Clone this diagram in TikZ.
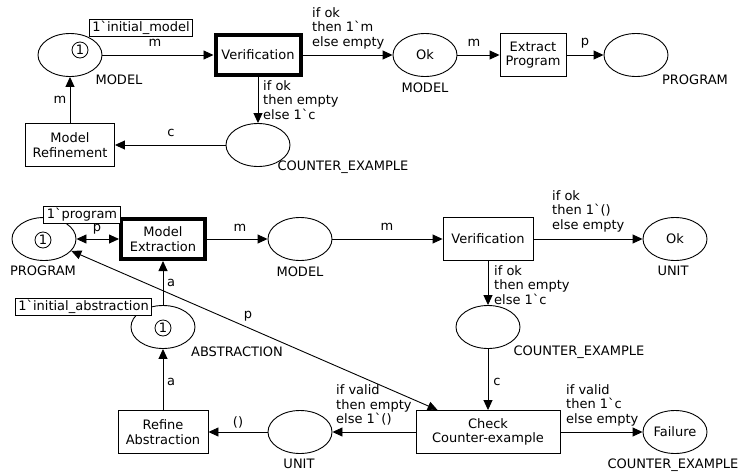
\documentclass[tikz,border=0pt]{standalone}
\usepackage{fontspec}
\newfontfamily\netfont{DejaVu Sans}
\usetikzlibrary{shapes.geometric,arrows.meta}
\begin{document}
\begin{tikzpicture}[x=1pt,y=-1pt,
  font=\netfont\fontsize{13}{14.5}\selectfont,
  place/.style={ellipse, draw, line width=0.9pt, minimum width=64pt, minimum height=43pt, inner sep=0pt},
  trans/.style={rectangle, draw, line width=0.9pt, minimum height=43pt, align=center, inner sep=0pt},
  heavy/.style={trans, line width=4pt, minimum height=40pt},
  token/.style={circle, draw, line width=0.8pt, minimum size=16pt, inner sep=0pt},
  initmark/.style={draw, fill=white, line width=0.8pt, inner xsep=3pt, inner ysep=1pt, minimum height=17pt},
  arc/.style={line width=0.9pt, -{Triangle[length=10pt,width=9pt]}},
  biarc/.style={line width=0.9pt, {Triangle[length=10pt,width=9pt]}-{Triangle[length=10pt,width=9pt]}},
  inscr/.style={inner sep=0pt, align=left},
]
\useasboundingbox (0,0) rectangle (739,472);

% ---------- upper net ----------
\node[place] (m1) at (70,55) {};
\node[token] (m1tok) at (80,50) {1};
\node[heavy, minimum width=85pt] (ver1) at (258,55) {Verification};
\node[place] (ok1) at (425,55) {Ok};
\node[trans, minimum width=66pt] (ext) at (533,55) {Extract\\Program};
\node[place] (pg1) at (636,55) {};
\node[place] (ce1) at (258,145) {};
\node[trans, minimum width=89pt] (ref1) at (70,145) {Model\\Refinement};

\node (m1cs) at (119,80) {MODEL};
\node (ok1cs) at (425,88) {MODEL};
\node (pg1cs) at (695,80) {PROGRAM};
\node (ce1cs) at (343,167) {COUNTER\_EXAMPLE};

\draw[arc] (m1) -- (ver1);
\draw[arc] (ver1) -- (ok1);
\draw[arc] (ok1) -- (ext);
\draw[arc] (ext) -- (pg1);
\draw[arc] (ver1) -- (ce1);
\draw[arc] (ce1) -- (ref1);
\draw[arc] (ref1) -- (m1);

\node[inscr] (i1) at (155,43) {m};
\node[inscr, anchor=west] (i2) at (312,28) {if ok\\then 1`m\\else empty};
\node[inscr] (i3) at (474,43) {m};
\node[inscr] (i4) at (585,43) {p};
\node[inscr, anchor=west] (i5) at (263,100) {if ok\\then empty\\else 1`c};
\node[inscr] (i6) at (171,133) {c};
\node[inscr] (i7) at (60,100) {m};

\node[initmark] (init1) at (141,28) {1`initial\_model};

% ---------- lower net ----------
\node[place] (pg2) at (44,239) {};
\node[token] (pg2tok) at (43,240) {1};
\node[heavy, minimum width=84pt] (mex) at (163,239) {Model\\Extraction};
\node[place] (m2) at (300,239) {};
\node[trans, minimum width=90pt] (ver2) at (488,239) {Verification};
\node[place] (ok2) at (675,239) {Ok};
\node[place] (ce2) at (488,327) {};
\node[trans, minimum width=144pt] (chk) at (488,432) {Check\\Counter-example};
\node[place] (fail) at (675,432) {Failure};
\node[place] (u2) at (300,432) {};
\node[trans, minimum width=90pt] (refa) at (163,432) {Refine\\Abstraction};
\node[place] (abs) at (163,327) {};
\node[token] (abstok) at (163,328) {1};

\node (pg2cs) at (43,271) {PROGRAM};
\node (m2cs) at (300,272) {MODEL};
\node (ok2cs) at (673,271) {UNIT};
\node (ce2cs) at (579,352) {COUNTER\_EXAMPLE};
\node (failcs) at (673,465) {COUNTER\_EXAMPLE};
\node (u2cs) at (299,464) {UNIT};
\node (abscs) at (237,352) {ABSTRACTION};

\draw[biarc] (pg2) -- (mex);
\draw[arc] (mex) -- (m2);
\draw[arc] (m2) -- (ver2);
\draw[arc] (ver2) -- (ok2);
\draw[arc] (ver2) -- (ce2);
\draw[arc] (ce2) -- (chk);
\draw[arc] (chk) -- (fail);
\draw[arc] (chk) -- (u2);
\draw[arc] (u2) -- (refa);
\draw[arc] (refa) -- (abs);
\draw[arc] (abs) -- (mex);
\draw[biarc] (chk) -- (pg2);

\node[inscr] (j1) at (97,229.5) {p};
\node[inscr] (j2) at (240,228) {m};
\node[inscr] (j3) at (387,227) {m};
\node[inscr, anchor=west] (j4) at (552,211) {if ok\\then 1`()\\else empty};
\node[inscr, anchor=west] (j5) at (494,285) {if ok\\then empty\\else 1`c};
\node[inscr] (j6) at (497,382) {c};
\node[inscr, anchor=west] (j7) at (566,405) {if valid\\then 1`c\\else empty};
\node[inscr, anchor=west] (j8) at (336,405) {if valid\\then empty\\else 1`()};
\node[inscr] (j9) at (238,422) {()};
\node[inscr] (j10) at (171,382) {a};
\node[inscr] (j11) at (171,283) {a};
\node[inscr] (j12) at (248,316) {p};

\node[initmark] (init2) at (82,214.5) {1`program};
\node[initmark] (init3) at (83.5,307) {1`initial\_abstraction};
\end{tikzpicture}
\end{document}
